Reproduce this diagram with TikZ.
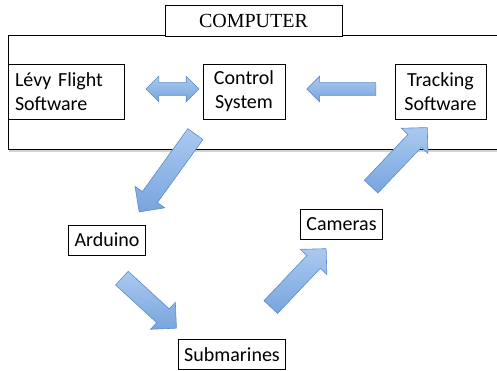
\documentclass[tikz,border=0pt]{standalone}
\usepackage{fontspec}
\setmainfont{Carlito}
\newfontfamily\timesfont{Liberation Serif}
\usetikzlibrary{shapes.arrows,shadows}
\definecolor{arrowline}{RGB}{92,140,202}
\definecolor{arrowlight}{RGB}{170,201,240}
\definecolor{arrowdark}{RGB}{120,165,222}
\begin{document}
\begin{tikzpicture}
[
x=1pt, y=-1pt,
frame/.style={draw=black, fill=white, line width=1pt, drop shadow={shadow xshift=0.6pt, shadow yshift=-1.6pt, opacity=0.35}},
title/.style={rectangle, draw=black, line width=0.8pt, fill=white, minimum width=177pt, minimum height=31pt, font=\timesfont\fontsize{20}{24}\selectfont},
bigbox/.style={rectangle, draw=black, fill=white, line width=0.8pt, minimum height=55pt, align=center, font=\fontsize{20}{24}\selectfont},
smallbox/.style={rectangle, draw=black, fill=white, line width=0.8pt, minimum height=30pt, inner xsep=6pt, font=\fontsize{20}{24}\selectfont},
fat/.style={single arrow, single arrow head extend=9pt, single arrow tip angle=90, inner sep=9pt, draw=arrowline, line width=0.6pt, top color=arrowlight, bottom color=arrowdark, sloped, allow upside down},
thin/.style={single arrow, single arrow head extend=6.5pt, single arrow tip angle=90, inner sep=6pt, draw=arrowline, line width=0.6pt, top color=arrowlight, bottom color=arrowdark, sloped, allow upside down},
both/.style={double arrow, double arrow head extend=6.5pt, double arrow tip angle=90, inner sep=6pt, draw=arrowline, line width=0.6pt, top color=arrowlight, bottom color=arrowdark, sloped, allow upside down}
]
\path[use as bounding box, clip] (0,0) rectangle (497,371);

%Frame
\draw[frame] (8,36) rectangle (510,150);

%Nodes
\node[title]    (comp)  at (253.5,20.5)  {COMPUTER};
\node[bigbox, minimum width=116pt, text width=102pt, align=left] (levy) at (66,91.5) {Lévy Flight\\Software};
\node[bigbox, minimum width=82pt]    (ctrl)  at (244,91.5)   {Control\\System};
\node[bigbox, minimum width=91pt]    (track) at (440.5,91.5) {Tracking\\Software};
\node[smallbox] (ard)   at (107,240)     {Arduino};
\node[smallbox] (cams)  at (341.5,224.5) {Cameras};
\node[smallbox] (subs)  at (232,354.5)   {Submarines};

%Arrow ends
\coordinate (l1) at (146,89);
\coordinate (r1) at (199,89);
\coordinate (t2) at (379,89);
\coordinate (h2) at (310,89);
\coordinate (t3) at (198,130.5);
\coordinate (h3) at (142,208);
\coordinate (t4) at (118.5,275);
\coordinate (h4) at (173,325);
\coordinate (t5) at (267.5,310.5);
\coordinate (h5) at (323,252);
\coordinate (t6) at (368,190);
\coordinate (h6) at (424,131);

%Arrows
\path (l1) -- node[both, minimum height=53pt] {} (r1);
\path (t2) -- node[thin, minimum height=69pt] {} (h2);
\path (t3) -- node[fat, minimum height=96pt] {} (h3);
\path (t4) -- node[fat, minimum height=74pt] {} (h4);
\path (t5) -- node[fat, minimum height=80.5pt] {} (h5);
\path (t6) -- node[fat, minimum height=81.5pt] {} (h6);

\end{tikzpicture}
\end{document}
